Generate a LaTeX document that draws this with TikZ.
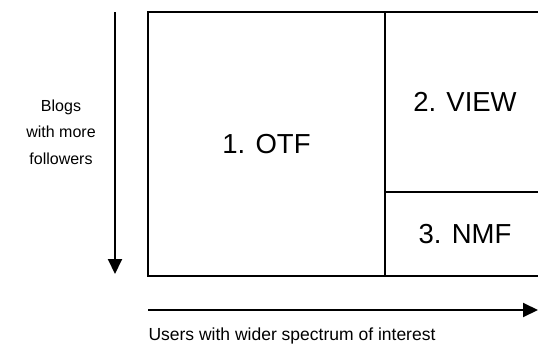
\documentclass[tikz,border=0pt]{standalone}
\usepackage{fontspec}
\setmainfont{Liberation Sans}
\usetikzlibrary{arrows.meta}

\begin{document}
\begin{tikzpicture}[
    x=1pt,
    y=-1pt,
    cell/.style={
      draw,
      line width=2pt,
      inner sep=0pt,
      align=center,
      font=\fontsize{27.5}{32}\selectfont
    },
    axis/.style={
      line width=2pt,
      -{Triangle[length=15pt,width=14pt]}
    },
    caption/.style={
      align=center,
      font=\fontsize{16}{26.5}\selectfont
    }
  ]

    % --- Frame of the picture
    \clip (0,0) rectangle (538,345);

    % --- Cells
    \node[cell, minimum width=237pt, minimum height=263.5pt] (otf) at (266.5,144.25) {1. OTF};
    \node[cell, minimum width=160pt, minimum height=179.5pt] (view) at (465,102.25) {2. VIEW};
    \node[cell, minimum width=160pt, minimum height=84pt] (nmf) at (465,234) {3. NMF};

    % --- Axes
    \coordinate (vtop) at (115,12.5);
    \coordinate (vend) at (115,274);
    \coordinate (hstart) at (148,310);
    \coordinate (hend) at (538,310);
    \draw[axis] (vtop) -- (vend);
    \draw[axis] (hstart) -- (hend);

    % --- Axis labels
    \node[caption] (blogs) at (61,132) {Blogs\\with more\\followers};
    \node[caption, font=\fontsize{17.5}{20}\selectfont] (users) at (292,336) {Users with wider spectrum of interest};

  \end{tikzpicture}
\end{document}
